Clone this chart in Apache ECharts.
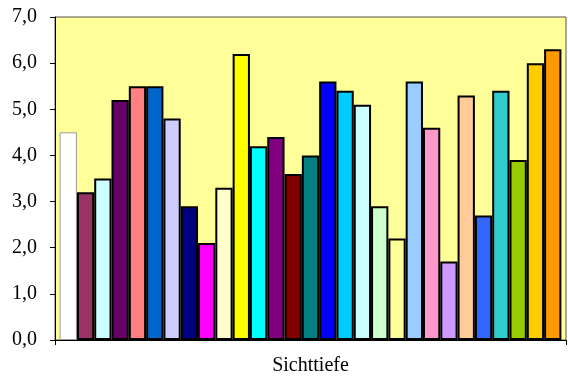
<!DOCTYPE html>
<html>
<head>
<meta charset="utf-8">
<script src="https://cdn.jsdelivr.net/npm/echarts@6/dist/echarts.min.js"></script>
<style>
  html, body { margin: 0; padding: 0; background: #fff; }
  #chart { width: 568px; height: 376px; }
</style>
</head>
<body>
<div id="chart"></div>
<script>
// one category, one bar per sample
var categories = ['Sichttiefe'];
var values = [4.5, 3.2, 3.5, 5.2, 5.5, 5.5, 4.8, 2.9, 2.1, 3.3,
              6.2, 4.2, 4.4, 3.6, 4.0, 5.6, 5.4, 5.1, 2.9, 2.2,
              5.6, 4.6, 1.7, 5.3, 2.7, 5.4, 3.9, 6.0, 6.3];
var palette = ['#FFFFFF', '#993366', '#CCFFFF', '#660066', '#FF8080', '#0066CC', '#CCCCFF', '#000080', '#FF00FF', '#FFFFCC',
               '#FFFF00', '#00FFFF', '#800080', '#800000', '#008080', '#0000FF', '#00CCFF', '#CCFFFF', '#CCFFCC', '#FFFF99',
               '#99CCFF', '#FF99CC', '#CC99FF', '#FFCC99', '#3366FF', '#33CCCC', '#99CC00', '#FFCC00', '#FF9900'];

var font = '"Liberation Serif", "Times New Roman", serif';
var chart = echarts.init(document.getElementById('chart'));

var series = [];
for (var i = 0; i < values.length; i++) {
    series.push({
        name: 'S' + (i + 1),
        type: 'bar',
        data: [values[i]],
        barGap: '0%',
        barCategoryGap: '1.8%',
        itemStyle: {
            color: palette[i],
            borderColor: i == 0 ? '#999999' : '#000000', // first bar has a thin grey edge
            borderWidth: i == 0 ? 1 : 2
        }
    });
}

chart.setOption({
    animation: false,
    grid: {
        left: 55, right: 2, top: 17, bottom: 36,
        outerBoundsMode: 'none',
        containLabel: false,
        show: true,
        backgroundColor: '#FFFF99',
        borderColor: '#555555',
        borderWidth: 1
    },
    xAxis: {
        type: 'category',
        data: categories,
        axisLine: { lineStyle: { color: '#000', width: 1 } },
        axisTick: { show: true, length: 5, lineStyle: { color: '#000' } },
        axisLabel: { show: false },
        name: 'Sichttiefe',
        nameLocation: 'middle',
        nameGap: 16,
        nameTextStyle: { fontFamily: font, fontSize: 20, color: '#000' }
    },
    yAxis: {
        type: 'value',
        min: 0, max: 7, interval: 1,
        axisLine: { show: true, lineStyle: { color: '#000', width: 1 } },
        axisTick: { show: true, length: 5, lineStyle: { color: '#000' } },
        splitLine: { show: false },
        axisLabel: {
            fontFamily: font, fontSize: 20, color: '#000', margin: 18,
            formatter: function (v) { return v.toFixed(1).replace('.', ','); }
        }
    },
    series: series
});
</script>
</body>
</html>
